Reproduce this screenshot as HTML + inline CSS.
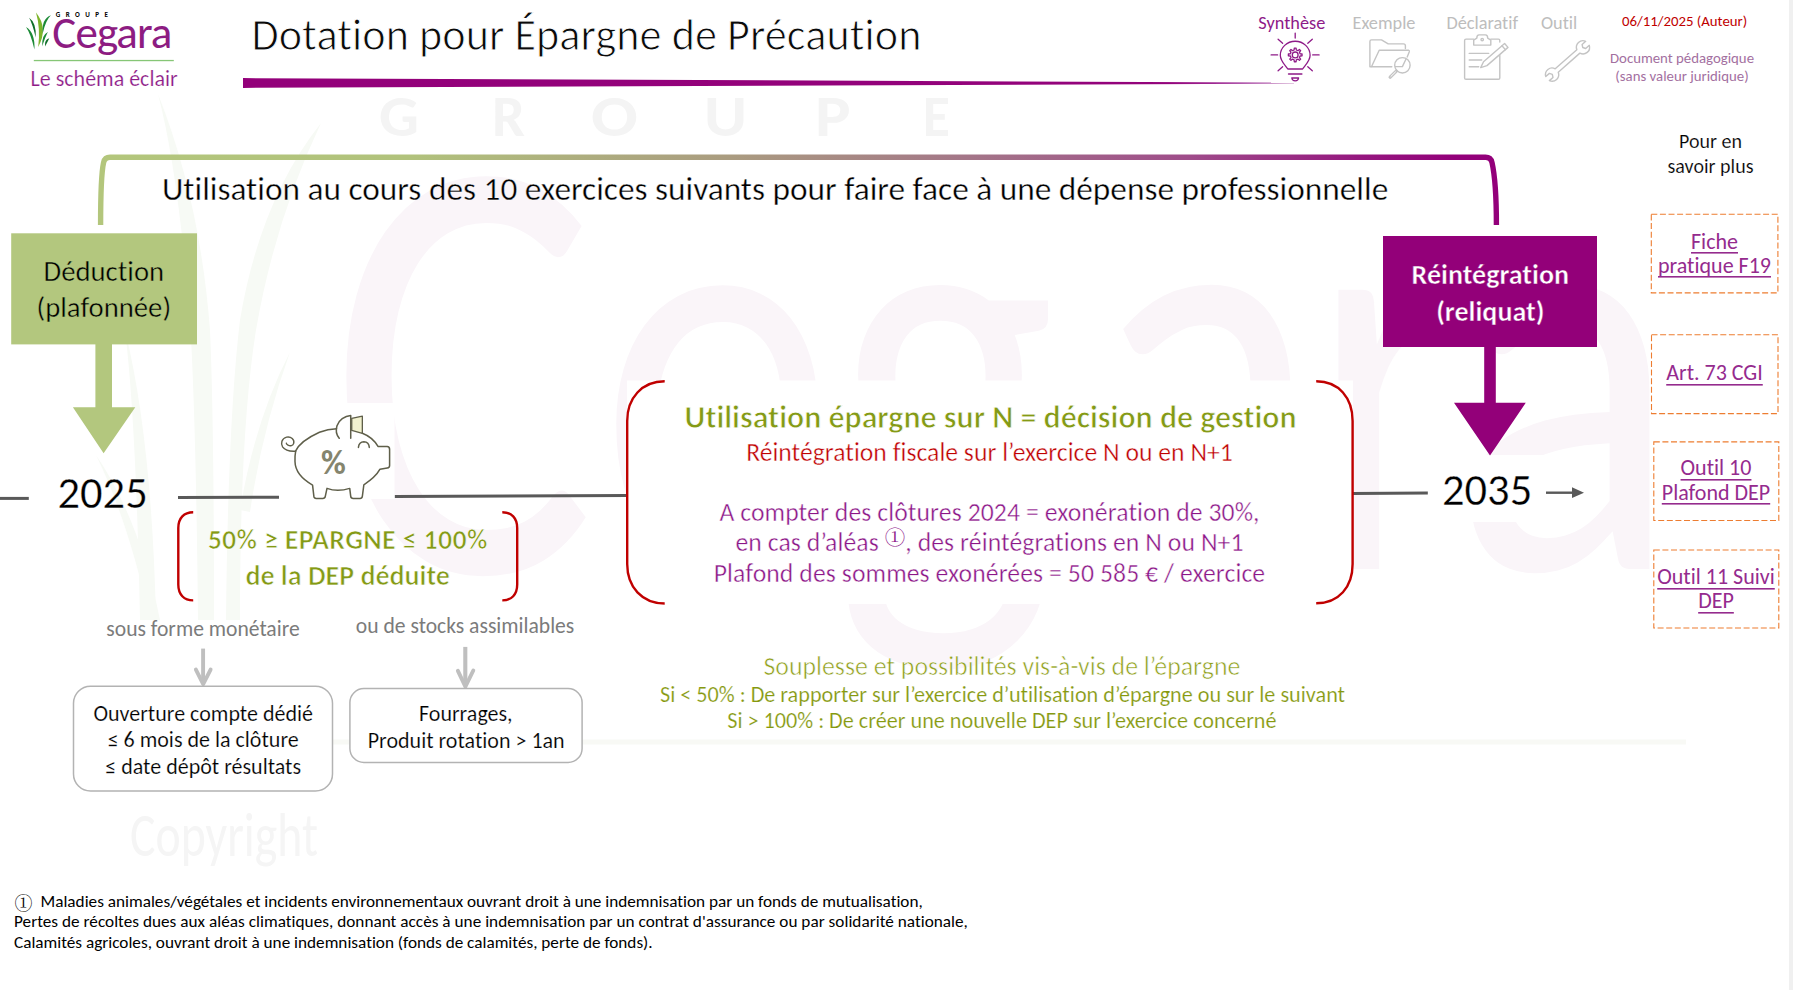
<!DOCTYPE html>
<html lang="fr"><head><meta charset="utf-8"><title>Dotation pour Épargne de Précaution</title>
<style>
html,body{margin:0;padding:0;background:#fff;}
body{width:1793px;height:990px;position:relative;overflow:hidden;}
svg.layer{position:absolute;left:0;top:0;}
svg.txt text{font-family:Carlito, 'Liberation Sans', sans-serif;font-variant-ligatures:none;font-feature-settings:'liga' 0,'clig' 0;white-space:pre;}
.edge{position:absolute;left:1789px;top:0;width:4px;height:990px;background:#f0f0f0;}
</style></head><body>
<svg class="layer" width="1793" height="990" viewBox="0 0 1793 990"><path d="M158,94 Q178,170 190,320 Q196,420 198,620 L214,620 Q214,420 210,330 Q200,200 158,94 Z" fill="#f7faf5"/>
<path d="M321,123 Q260,200 240,320 Q228,420 226,620 L240,620 Q240,430 256,330 Q275,220 321,123 Z" fill="#f7faf5"/>
<path d="M125,330 Q136,420 140,620 L156,620 Q152,440 125,330 Z" fill="#f7faf5"/>
<path d="M290,352 Q255,420 240,510 L250,512 Q262,430 290,352 Z" fill="#f7faf5"/>
<path d="M96,455 Q128,520 150,620 L160,620 Q140,520 96,455 Z" fill="#f7faf5"/>
<text x="379" y="136" font-family="Carlito, Liberation Sans, sans-serif" font-weight="700" font-size="59" fill="#f4f4f4" textLength="40.0" lengthAdjust="spacingAndGlyphs">G</text>
<text x="492" y="136" font-family="Carlito, Liberation Sans, sans-serif" font-weight="700" font-size="59" fill="#f4f4f4" textLength="33.0" lengthAdjust="spacingAndGlyphs">R</text>
<text x="591" y="136" font-family="Carlito, Liberation Sans, sans-serif" font-weight="700" font-size="59" fill="#f4f4f4" textLength="46.8" lengthAdjust="spacingAndGlyphs">O</text>
<text x="704" y="136" font-family="Carlito, Liberation Sans, sans-serif" font-weight="700" font-size="59" fill="#f4f4f4" textLength="43.0" lengthAdjust="spacingAndGlyphs">U</text>
<text x="815" y="136" font-family="Carlito, Liberation Sans, sans-serif" font-weight="700" font-size="59" fill="#f4f4f4" textLength="35.6" lengthAdjust="spacingAndGlyphs">P</text>
<text x="922.8" y="136" font-family="Carlito, Liberation Sans, sans-serif" font-weight="700" font-size="59" fill="#f4f4f4" textLength="27.2" lengthAdjust="spacingAndGlyphs">E</text>
<g transform="translate(0,572) scale(0.816,1)"><text y="0" x="404.5" font-family="Carlito, Liberation Sans, sans-serif" font-size="610" fill="#faf5f9">C</text></g>
<g transform="translate(0,569) scale(0.81,1)"><text y="0" x="739.4 1028.8 1348.9 1615.0 1792.1" font-family="Carlito, Liberation Sans, sans-serif" font-size="585" fill="#faf5f9">egara</text></g>
<rect x="627" y="380.5" width="726" height="223.5" fill="#fff"/>
<rect x="1380" y="455" width="210" height="67" fill="#fff"/>
<rect x="300" y="739.5" width="1386" height="5" fill="#f8f9f5"/>
<text x="130" y="856.4" font-family="Carlito, Liberation Sans, sans-serif" font-size="62" fill="#f5f5f5" textLength="188" lengthAdjust="spacingAndGlyphs">Copyright</text></svg>
<svg class="layer" width="1793" height="990" viewBox="0 0 1793 990"><defs>
<linearGradient id="gbr" gradientUnits="userSpaceOnUse" x1="100" y1="0" x2="1497" y2="0">
<stop offset="0" stop-color="#b3c67c"/><stop offset="0.22" stop-color="#b1c27c"/>
<stop offset="0.45" stop-color="#aa9c80"/><stop offset="0.62" stop-color="#a47688"/>
<stop offset="0.78" stop-color="#9f4c8a"/><stop offset="0.9" stop-color="#95187f"/><stop offset="0.97" stop-color="#93007a"/><stop offset="1" stop-color="#93007a"/>
</linearGradient>
<linearGradient id="gbar" gradientUnits="userSpaceOnUse" x1="243" y1="0" x2="1294" y2="0">
<stop offset="0" stop-color="#93007a"/><stop offset="0.88" stop-color="#93037b"/><stop offset="0.95" stop-color="#a540a0"/><stop offset="1" stop-color="#c890c4"/>
</linearGradient>
</defs>
<polygon points="243,78.1 1294,82.6 1294,83.6 243,87.9" fill="url(#gbar)"/>
<rect x="33.8" y="59.9" width="140" height="1.3" fill="#86c676"/>
<path d="M34.40,49.60 Q35.36,32.70 26.00,27.00 Q31.04,34.30 34.40,49.60 Z" fill="#1b8a36"/>
<path d="M35.70,37.50 Q36.59,22.83 29.10,17.80 Q32.61,24.17 35.70,37.50 Z" fill="#0f6e2a"/>
<path d="M38.20,47.00 Q48.59,28.24 36.00,12.60 Q40.61,28.76 38.20,47.00 Z" fill="#7db52a"/>
<path d="M42.70,33.50 Q45.51,20.40 50.90,15.20 Q41.49,18.60 42.70,33.50 Z" fill="#1b8a36"/>
<path d="M42.20,46.30 Q45.55,36.28 47.90,32.00 Q41.65,34.72 42.20,46.30 Z" fill="#1b8a36"/>
<path d="M45.00,46.50 Q47.78,41.42 49.30,38.20 Q44.22,39.58 45.00,46.50 Z" fill="#0f6e2a"/>
<g fill="none" stroke="#8e1a88" stroke-width="1.3" stroke-linecap="round" stroke-linejoin="round">
<path d="M1287.8,69 C1285.5,65.5 1280.3,61.2 1280.3,55.3 A14.9,14.1 0 0 1 1310.1,55.3 C1310.1,61.2 1304.9,65.5 1302.6,69 Z"/>
<line x1="1288.6" y1="74" x2="1301.8" y2="74" stroke-width="1.6"/>
<path d="M1291.8,78 L1298.6,78 Q1298.2,80.9 1295.2,80.9 Q1292.2,80.9 1291.8,78 Z"/>
<line x1="1295.2" y1="33.1" x2="1295.2" y2="38.1"/>
<line x1="1278.1" y1="39.3" x2="1282.6" y2="43.3"/>
<line x1="1312.3" y1="39.3" x2="1307.8" y2="43.3"/>
<line x1="1271.1" y1="54.9" x2="1277.6" y2="54.9"/>
<line x1="1312.7" y1="54.9" x2="1319.1" y2="54.9"/>
<line x1="1278.1" y1="70.7" x2="1282.6" y2="66.7"/>
<line x1="1312.3" y1="70.7" x2="1307.8" y2="66.7"/>
<polygon points="1300.08,53.81 1302.04,54.01 1302.04,55.79 1300.08,55.99 1299.42,57.58 1300.67,59.11 1299.41,60.37 1297.88,59.12 1296.29,59.78 1296.09,61.74 1294.31,61.74 1294.11,59.78 1292.52,59.12 1290.99,60.37 1289.73,59.11 1290.98,57.58 1290.32,55.99 1288.36,55.79 1288.36,54.01 1290.32,53.81 1290.98,52.22 1289.73,50.69 1290.99,49.43 1292.52,50.68 1294.11,50.02 1294.31,48.06 1296.09,48.06 1296.29,50.02 1297.88,50.68 1299.41,49.43 1300.67,50.69 1299.42,52.22"/>
<circle cx="1295.2" cy="54.9" r="2.9"/>
</g>
<g fill="none" stroke="#c4c4c4" stroke-width="1.4" stroke-linejoin="round" stroke-linecap="round">
<path d="M1391.8,66.7 L1369.9,66.7 L1369.9,41.5 Q1369.9,39.9 1371.5,39.9 L1381.5,39.9 L1388.2,43.9 L1403.5,43.9 Q1405.4,43.9 1405.4,45.8 L1405.4,48.6"/>
<path d="M1371.6,66.5 L1379.2,50.2 L1408.5,50.2 Q1409.7,50.6 1409.3,51.8 L1407.2,57"/>
<path d="M1405.9,59.3 L1402.4,66.6 L1395.3,66.6"/>
<circle cx="1402.4" cy="65.3" r="7.7"/>
<line x1="1396.3" y1="71.1" x2="1390.2" y2="77.1" stroke-width="3.4"/>
<line x1="1395.5" y1="71.9" x2="1390.9" y2="76.4" stroke="#fff" stroke-width="1.0"/>
</g>
<g fill="none" stroke="#c4c4c4" stroke-width="1.4" stroke-linejoin="round" stroke-linecap="round">
<path d="M1473.7,39.1 L1466,39.1 Q1464.6,39.1 1464.6,40.5 L1464.6,78 Q1464.6,79.3 1466,79.3 L1498.5,79.3 Q1499.8,79.3 1499.8,78 L1499.8,55.5"/>
<path d="M1490.8,39.1 L1498.5,39.1 Q1499.8,39.1 1499.8,40.5 L1499.8,42"/>
<path d="M1473.7,45.1 L1473.7,40.1 L1476.8,38.2 Q1476.8,34.9 1479,34.9 L1485.5,34.9 Q1487.7,34.9 1487.7,38.2 L1490.8,40.1 L1490.8,45.1 Z"/>
<circle cx="1482.2" cy="39.6" r="1.2"/>
<line x1="1469.2" y1="53.4" x2="1488.7" y2="53.4"/><line x1="1469.2" y1="60" x2="1481.7" y2="60"/><line x1="1469.2" y1="66.7" x2="1478.7" y2="66.7"/>
<polygon fill="#fff" points="1480.70,67.60 1486.94,65.63 1508.00,47.36 1504.60,43.44 1483.53,61.70"/>
<line x1="1505.36" y1="49.66" x2="1501.95" y2="45.73"/>
</g>
<path transform="translate(1552.1,74.6) rotate(-41.46)" fill="none" stroke="#c4c4c4" stroke-width="1.4" stroke-linejoin="round" d="M47.25,-2.7 L42.43,-2.7 L40.93,0 L42.43,2.7 L47.25,2.7 A6.6,6.6 0 0 1 35.05,2.3 L6.19,2.3 A6.6,6.6 0 0 1 -6.02,2.7 L-1.20,2.7 L0.3,0 L-1.20,-2.7 L-6.02,-2.7 A6.6,6.6 0 0 1 6.19,-2.3 L35.05,-2.3 A6.6,6.6 0 0 1 47.25,-2.7 Z"/>
<path d="M100.6,225 C100.6,196 101,174 103.6,162.5 Q104.8,157.3 110,157.3 L1485.5,157.3 Q1490.8,157.3 1492,162.5 C1494.8,175 1496.4,196 1496.4,225" fill="none" stroke="url(#gbr)" stroke-width="5.4"/>
<rect x="11.2" y="233.3" width="185.8" height="111.1" fill="#b3c77e"/>
<polygon points="95.4,344 112,344 112,407.2 135.3,407.2 103.6,453.3 72.9,407.2 95.4,407.2" fill="#b3c77e"/>
<rect x="1383" y="236" width="214" height="111" fill="#930079"/>
<polygon points="1484.2,346 1495.8,346 1495.8,402.7 1525.8,402.7 1490,455.5 1454,402.7 1484.2,402.7" fill="#930079"/>
<g stroke="#595959" stroke-width="3" fill="none">
<line x1="0" y1="498.4" x2="28.8" y2="498.4"/>
<line x1="178" y1="497.6" x2="279" y2="497.2"/>
<line x1="394.7" y1="496.6" x2="628" y2="495.5"/>
<line x1="1352" y1="493.5" x2="1427.8" y2="492.9"/>
<line x1="1546" y1="492.7" x2="1574" y2="492.7" stroke-width="2.4"/>
</g>
<polygon points="1572,487.3 1584,492.7 1572,498.1" fill="#595959"/>
<g fill="none" stroke="#c00000" stroke-width="2.4">
<path d="M193.2,512.2 C184,512.2 178.3,518 178.3,528 L178.3,584.5 C178.3,594.5 184,600.4 193.2,600.4"/>
<path d="M502.3,512.2 C511.5,512.2 517.2,518 517.2,528 L517.2,584.5 C517.2,594.5 511.5,600.4 502.3,600.4"/>
<path d="M664.7,381.3 C642,381.3 627.2,398 627.2,421 L627.2,564 C627.2,587 642,603.5 664.7,603.5"/>
<path d="M1316.2,381.3 C1338.9,381.3 1352.6,398 1352.6,421 L1352.6,564 C1352.6,587 1338.9,603.3 1316.2,603.3"/>
</g>
<g fill="none" stroke="#bfbfbf" stroke-width="3.9" stroke-linecap="round" stroke-linejoin="round">
<line x1="203.1" y1="648.6" x2="203.1" y2="682" stroke-width="3.9" stroke-linecap="butt"/><polyline points="195.9,669.6 203.2,684.2 210.6,669.6"/>
<line x1="465.3" y1="646.9" x2="465.3" y2="684.5" stroke-width="4.1" stroke-linecap="butt"/><polyline points="457.9,670.8 465.4,686.6 473.3,670.5"/>
</g>
<rect x="73.5" y="686.3" width="259" height="104.6" rx="17" fill="#fff" stroke="#b3b3b3" stroke-width="1.5"/>
<rect x="349.9" y="688.6" width="232.2" height="73.8" rx="14" fill="#fff" stroke="#b3b3b3" stroke-width="1.5"/>
<rect x="1651.3" y="214.3" width="126.6" height="78.6" fill="#fff" stroke="#ed7d31" stroke-width="1.1" stroke-dasharray="6 2.6"/>
<rect x="1651.5" y="334.8" width="126.5" height="78.8" fill="#fff" stroke="#ed7d31" stroke-width="1.1" stroke-dasharray="6 2.6"/>
<rect x="1653.8" y="441.9" width="125" height="78.6" fill="#fff" stroke="#ed7d31" stroke-width="1.1" stroke-dasharray="6 2.6"/>
<rect x="1653.8" y="550" width="125" height="78" fill="#fff" stroke="#ed7d31" stroke-width="1.1" stroke-dasharray="6 2.6"/>
<rect x="279" y="403" width="115.5" height="96" fill="#fff"/>
<g transform="translate(275,405) scale(0.10097)" fill="none" stroke="#5f5f4a" stroke-width="15" stroke-linejoin="round" stroke-linecap="round">
<path d="M205,455 C240,380 330,320 440,270 C500,248 560,238 610,236 M865,280 C930,305 985,350 1020,410 L1110,412 Q1135,414 1135,440 L1135,598 Q1135,620 1112,623 L1040,636 C1010,690 950,745 880,790 L865,905 Q862,925 842,925 L775,925 Q752,925 750,905 L740,826 C670,848 580,850 515,826 L498,905 Q495,925 473,925 L408,925 Q388,925 385,905 L372,793 C270,735 200,660 198,560 C197,520 200,480 205,455"/>
<path d="M636,330 C612,300 598,255 614,205 C632,150 690,108 750,104 L750,330"/>
<path d="M760,132 L865,110 L865,280 L760,252 Z" fill="#f2f2cf" stroke-width="13"/>
<path d="M826,420 C830,385 850,365 880,364 C912,365 932,388 934,420"/>
<path d="M205,458 C150,462 100,450 75,415 C55,385 65,330 115,318 C160,308 195,345 185,380 C178,405 150,410 130,398 C118,390 110,385 112,378" stroke-width="14"/>
</g>
<text x="333.5" y="473.5" text-anchor="middle" font-family="Carlito, Liberation Sans, sans-serif" font-weight="700" font-size="34" fill="#85856e">%</text></svg>
<svg class="layer txt" width="1793" height="990" viewBox="0 0 1793 990">
<text x="30.50" y="86.48" font-size="22" stroke="rgb(255, 255, 255)" stroke-width="0.18" fill="rgb(142, 26, 136)" textLength="147.23" lengthAdjust="spacingAndGlyphs">Le schéma éclair</text>
<text x="52.30" y="48.12" font-size="45" fill="rgb(141, 28, 130)" style="letter-spacing:-0.9px;" textLength="119.22" lengthAdjust="spacingAndGlyphs">Cegara</text>
<text x="55.80" y="16.50" font-size="7" font-weight="700" fill="rgb(0, 0, 0)" style="letter-spacing:5.45px;" textLength="57.48" lengthAdjust="spacingAndGlyphs">GROUPE</text>
<text x="251.50" y="50.00" font-size="44.2" stroke="rgb(255, 255, 255)" stroke-width="0.97" fill="rgb(10, 10, 10)" style="letter-spacing:0.06px;" textLength="669.92" lengthAdjust="spacingAndGlyphs">Dotation pour Épargne de Précaution</text>
<text x="1258.30" y="28.59" font-size="18.3" fill="rgb(142, 26, 136)" textLength="66.97" lengthAdjust="spacingAndGlyphs">Synthèse</text>
<text x="1352.50" y="28.59" font-size="18.3" fill="rgb(189, 189, 189)" textLength="62.97" lengthAdjust="spacingAndGlyphs">Exemple</text>
<text x="1446.50" y="28.59" font-size="18.3" fill="rgb(189, 189, 189)" textLength="71.52" lengthAdjust="spacingAndGlyphs">Déclaratif</text>
<text x="1541.00" y="28.59" font-size="18.3" fill="rgb(189, 189, 189)" textLength="36.23" lengthAdjust="spacingAndGlyphs">Outil</text>
<text x="1622.00" y="25.55" font-size="14.8" fill="rgb(192, 0, 0)" textLength="125.19" lengthAdjust="spacingAndGlyphs">06/11/2025 (Auteur)</text>
<text x="1682.00" y="63.25" text-anchor="middle" font-size="14.8" fill="rgb(163, 112, 159)" textLength="144.00" lengthAdjust="spacingAndGlyphs">Document pédagogique</text>
<text x="1681.99" y="80.75" text-anchor="middle" font-size="14.8" fill="rgb(163, 112, 159)" textLength="133.30" lengthAdjust="spacingAndGlyphs">(sans valeur juridique)</text>
<text x="1710.49" y="148.16" text-anchor="middle" font-size="20" stroke="rgb(255, 255, 255)" stroke-width="0.16" fill="rgb(0, 0, 0)" textLength="62.95" lengthAdjust="spacingAndGlyphs">Pour en</text>
<text x="1710.49" y="172.56" text-anchor="middle" font-size="20" stroke="rgb(255, 255, 255)" stroke-width="0.16" fill="rgb(0, 0, 0)" textLength="85.98" lengthAdjust="spacingAndGlyphs">savoir plus</text>
<text x="1714.50" y="248.69" text-anchor="middle" font-size="22" fill="rgb(149, 43, 142)" textLength="46.97" lengthAdjust="spacingAndGlyphs">Fiche</text>
<rect x="1691.02" y="252.00" width="46.97" height="1.6" fill="rgb(149, 43, 142)"/>
<text x="1714.49" y="272.69" text-anchor="middle" font-size="22" fill="rgb(149, 43, 142)" textLength="112.98" lengthAdjust="spacingAndGlyphs">pratique F19</text>
<rect x="1658.00" y="276.00" width="112.98" height="1.6" fill="rgb(149, 43, 142)"/>
<text x="1714.50" y="380.48" text-anchor="middle" font-size="22" fill="rgb(149, 43, 142)" textLength="96.53" lengthAdjust="spacingAndGlyphs">Art. 73 CGI</text>
<rect x="1666.23" y="384.00" width="96.53" height="1.6" fill="rgb(149, 43, 142)"/>
<text x="1716.00" y="475.48" text-anchor="middle" font-size="22" fill="rgb(149, 43, 142)" textLength="70.88" lengthAdjust="spacingAndGlyphs">Outil 10</text>
<rect x="1680.56" y="479.00" width="70.88" height="1.6" fill="rgb(149, 43, 142)"/>
<text x="1715.99" y="499.98" text-anchor="middle" font-size="22" fill="rgb(149, 43, 142)" textLength="108.42" lengthAdjust="spacingAndGlyphs">Plafond DEP</text>
<rect x="1661.78" y="503.00" width="108.42" height="1.6" fill="rgb(149, 43, 142)"/>
<text x="1715.99" y="584.48" text-anchor="middle" font-size="22" fill="rgb(149, 43, 142)" textLength="117.55" lengthAdjust="spacingAndGlyphs">Outil 11 Suivi</text>
<rect x="1657.22" y="588.00" width="117.55" height="1.6" fill="rgb(149, 43, 142)"/>
<text x="1716.00" y="608.48" text-anchor="middle" font-size="22" fill="rgb(149, 43, 142)" textLength="35.66" lengthAdjust="spacingAndGlyphs">DEP</text>
<rect x="1698.17" y="612.00" width="35.66" height="1.6" fill="rgb(149, 43, 142)"/>
<text x="162.00" y="200.08" font-size="33.3" stroke="rgb(255, 255, 255)" stroke-width="0.37" fill="rgb(0, 0, 0)" textLength="1226.20" lengthAdjust="spacingAndGlyphs">Utilisation au cours des 10 exercices suivants pour faire face à une dépense professionnelle</text>
<text x="103.80" y="280.64" text-anchor="middle" font-size="28.7" stroke="rgb(179, 199, 126)" stroke-width="0.43" fill="rgb(0, 0, 0)" textLength="120.59" lengthAdjust="spacingAndGlyphs">Déduction</text>
<text x="103.79" y="317.14" text-anchor="middle" font-size="28.7" stroke="rgb(179, 199, 126)" stroke-width="0.43" fill="rgb(0, 0, 0)" textLength="134.61" lengthAdjust="spacingAndGlyphs">(plafonnée)</text>
<text x="1490.29" y="284.12" text-anchor="middle" font-size="28" font-weight="700" stroke="rgb(147, 0, 121)" stroke-width="0.4" fill="rgb(255, 255, 255)" textLength="157.39" lengthAdjust="spacingAndGlyphs">Réintégration</text>
<text x="1490.29" y="320.62" text-anchor="middle" font-size="28" font-weight="700" stroke="rgb(147, 0, 121)" stroke-width="0.4" fill="rgb(255, 255, 255)" textLength="108.27" lengthAdjust="spacingAndGlyphs">(reliquat)</text>
<text x="57.50" y="507.75" font-size="44.5" stroke="rgb(255, 255, 255)" stroke-width="0.3" fill="rgb(0, 0, 0)" textLength="90.22" lengthAdjust="spacingAndGlyphs">2025</text>
<text x="1442.00" y="505.05" font-size="44.5" stroke="rgb(255, 255, 255)" stroke-width="0.3" fill="rgb(0, 0, 0)" textLength="90.22" lengthAdjust="spacingAndGlyphs">2035</text>
<text x="347.68" y="549.03" text-anchor="middle" font-size="28" font-weight="700" stroke="rgb(255, 255, 255)" stroke-width="0.67" fill="rgb(132, 154, 22)" style="letter-spacing:0.3px;" textLength="280.11" lengthAdjust="spacingAndGlyphs">50% ≥ EPARGNE ≤ 100%</text>
<text x="347.69" y="584.94" text-anchor="middle" font-size="28" font-weight="700" stroke="rgb(255, 255, 255)" stroke-width="0.67" fill="rgb(132, 154, 22)" textLength="204.53" lengthAdjust="spacingAndGlyphs">de la DEP déduite</text>
<text x="203.00" y="635.81" text-anchor="middle" font-size="21.6" fill="rgb(123, 123, 123)" textLength="193.31" lengthAdjust="spacingAndGlyphs">sous forme monétaire</text>
<text x="465.09" y="633.11" text-anchor="middle" font-size="21.6" fill="rgb(123, 123, 123)" textLength="218.47" lengthAdjust="spacingAndGlyphs">ou de stocks assimilables</text>
<text x="203.19" y="720.69" text-anchor="middle" font-size="22" stroke="rgb(255, 255, 255)" stroke-width="0.18" fill="rgb(0, 0, 0)" textLength="219.56" lengthAdjust="spacingAndGlyphs">Ouverture compte dédié</text>
<text x="203.18" y="747.19" text-anchor="middle" font-size="22" stroke="rgb(255, 255, 255)" stroke-width="0.18" fill="rgb(0, 0, 0)" textLength="191.11" lengthAdjust="spacingAndGlyphs">≤ 6 mois de la clôture</text>
<text x="203.19" y="773.98" text-anchor="middle" font-size="22" stroke="rgb(255, 255, 255)" stroke-width="0.18" fill="rgb(0, 0, 0)" textLength="195.84" lengthAdjust="spacingAndGlyphs">≤ date dépôt résultats</text>
<text x="465.79" y="720.69" text-anchor="middle" font-size="22" stroke="rgb(255, 255, 255)" stroke-width="0.18" fill="rgb(0, 0, 0)" textLength="93.61" lengthAdjust="spacingAndGlyphs">Fourrages,</text>
<text x="466.19" y="747.78" text-anchor="middle" font-size="22" stroke="rgb(255, 255, 255)" stroke-width="0.18" fill="rgb(0, 0, 0)" textLength="196.88" lengthAdjust="spacingAndGlyphs">Produit rotation &gt; 1an</text>
<text x="990.59" y="428.16" text-anchor="middle" font-size="31.9" font-weight="700" stroke="rgb(255, 255, 255)" stroke-width="0.77" fill="rgb(132, 154, 22)" textLength="612.05" lengthAdjust="spacingAndGlyphs">Utilisation épargne sur N = décision de gestion</text>
<text x="989.49" y="461.47" text-anchor="middle" font-size="25.7" stroke="rgb(255, 255, 255)" stroke-width="0.39" fill="rgb(192, 0, 0)" textLength="486.61" lengthAdjust="spacingAndGlyphs">Réintégration fiscale sur l’exercice N ou en N+1</text>
<text x="989.49" y="520.66" text-anchor="middle" font-size="25.7" stroke="rgb(255, 255, 255)" stroke-width="0.39" fill="rgb(140, 22, 136)" style="letter-spacing:0.08px;" textLength="540.23" lengthAdjust="spacingAndGlyphs">A compter des clôtures 2024 = exonération de 30%,</text>
<text x="989.49" y="550.77" text-anchor="middle" font-size="25.7" stroke="rgb(255, 255, 255)" stroke-width="0.39" fill="rgb(140, 22, 136)" style="letter-spacing:0.08px;" textLength="508.14" lengthAdjust="spacingAndGlyphs">en cas d’aléas <tspan style="font-family:'Noto Serif CJK SC', 'Noto Sans CJK JP', serif" font-size="20.5" stroke-width="0" dy="-6">①</tspan><tspan dy="6">, des réintégrations en N ou N+1</tspan></text>
<text x="989.49" y="582.06" text-anchor="middle" font-size="25.7" stroke="rgb(255, 255, 255)" stroke-width="0.39" fill="rgb(140, 22, 136)" style="letter-spacing:0.08px;" textLength="551.52" lengthAdjust="spacingAndGlyphs">Plafond des sommes exonérées = 50 585 € / exercice</text>
<text x="1001.89" y="674.69" text-anchor="middle" font-size="25.8" stroke="rgb(255, 255, 255)" stroke-width="0.55" fill="rgb(144, 159, 28)" textLength="476.78" lengthAdjust="spacingAndGlyphs">Souplesse et possibilités vis-à-vis de l’épargne</text>
<text x="1002.50" y="702.02" text-anchor="middle" font-size="22.2" stroke="rgb(255, 255, 255)" stroke-width="0.18" fill="rgb(134, 153, 15)" textLength="685.12" lengthAdjust="spacingAndGlyphs">Si &lt; 50% : De rapporter sur l’exercice d’utilisation d’épargne ou sur le suivant</text>
<text x="1001.89" y="728.11" text-anchor="middle" font-size="22.2" stroke="rgb(255, 255, 255)" stroke-width="0.18" fill="rgb(134, 153, 15)" textLength="549.38" lengthAdjust="spacingAndGlyphs">Si &gt; 100% : De créer une nouvelle DEP sur l’exercice concerné</text>
<text x="14.50" y="909.62" style="font-family:'Noto Serif CJK SC', 'Noto Sans CJK JP', serif" font-size="18" fill="rgb(0, 0, 0)" textLength="18.00" lengthAdjust="spacingAndGlyphs">①</text>
<text x="40.50" y="906.62" font-size="17.2" fill="rgb(0, 0, 0)" textLength="882.22" lengthAdjust="spacingAndGlyphs">Maladies animales/végétales et incidents environnementaux ouvrant droit à une indemnisation par un fonds de mutualisation,</text>
<text x="14.00" y="926.83" font-size="17.2" fill="rgb(0, 0, 0)" style="letter-spacing:0.025px;" textLength="953.92" lengthAdjust="spacingAndGlyphs">Pertes de récoltes dues aux aléas climatiques, donnant accès à une indemnisation par un contrat d'assurance ou par solidarité nationale,</text>
<text x="14.00" y="948.02" font-size="17.2" fill="rgb(0, 0, 0)" textLength="638.67" lengthAdjust="spacingAndGlyphs">Calamités agricoles, ouvrant droit à une indemnisation (fonds de calamités, perte de fonds).</text>
</svg>
<div class="edge"></div>
</body></html>
